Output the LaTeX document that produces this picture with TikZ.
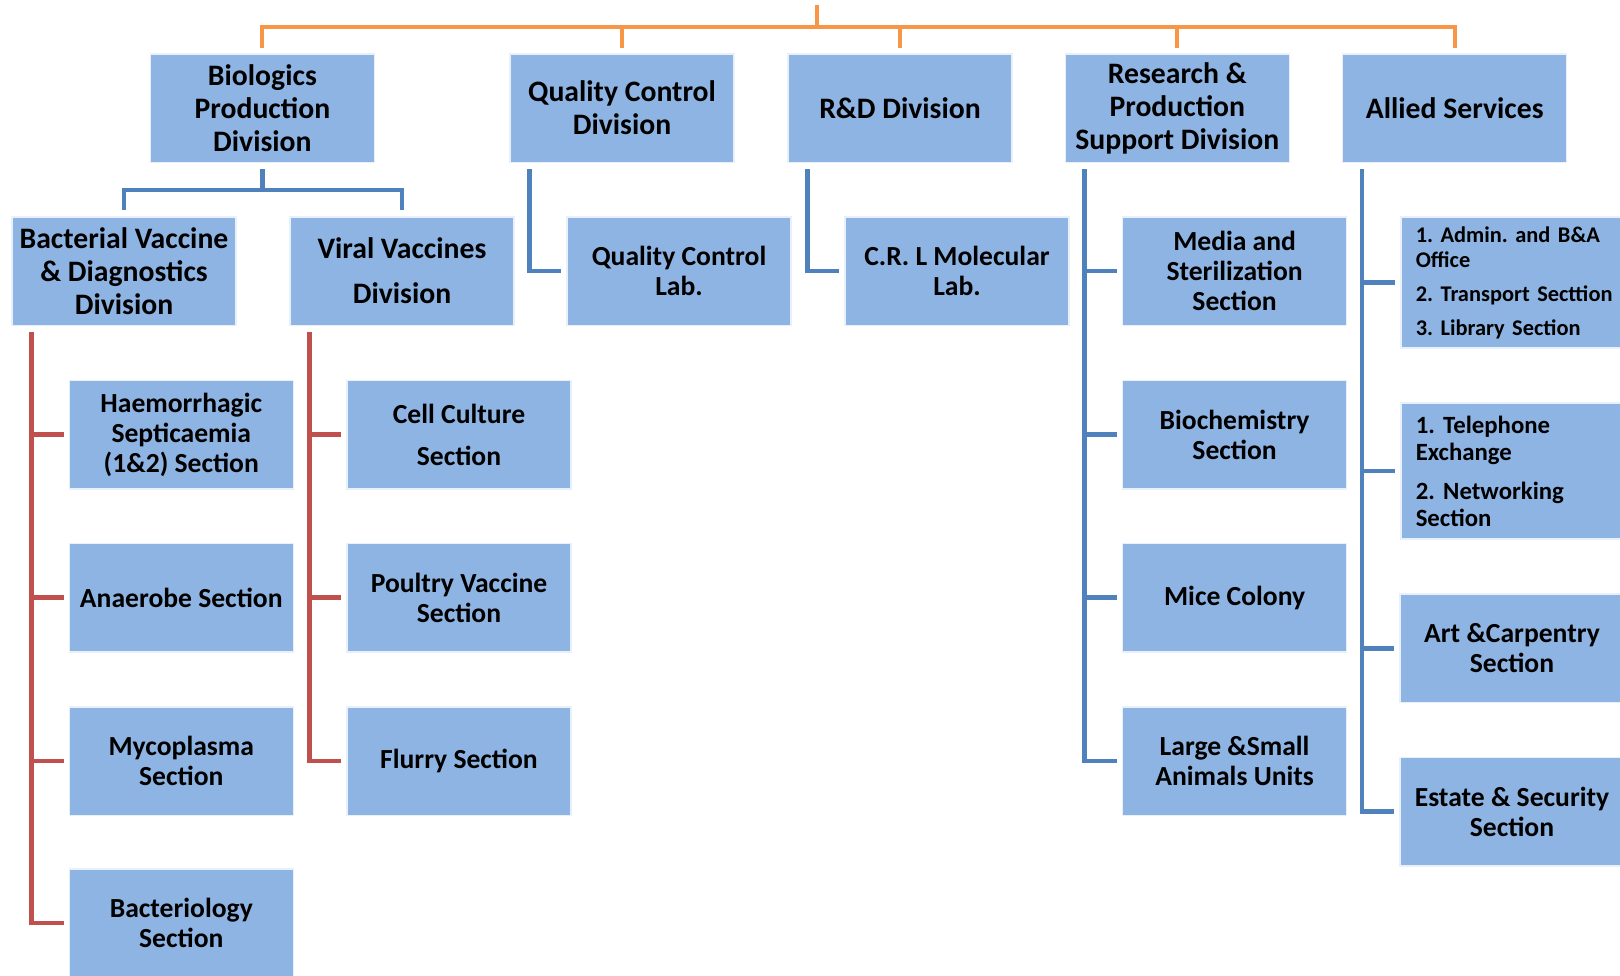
\documentclass[tikz,border=0pt]{standalone}
\usepackage{fontspec}
\setmainfont{Carlito}
\definecolor{boxblue}{HTML}{8EB4E3}
\definecolor{lineblue}{HTML}{4F81BD}
\definecolor{linered}{HTML}{C0504D}
\definecolor{lineorange}{HTML}{F79646}
\tikzset{
  unitbox/.style={fill=boxblue, draw=white!80!boxblue, line width=1.5pt, minimum width=224pt, minimum height=108.5pt, inner sep=0pt, align=center, font=\frenchspacing\bfseries\fontsize{27.6}{30}\selectfont},
  divbox/.style={unitbox, font=\frenchspacing\bfseries\fontsize{29.7}{33}\selectfont},
  listbox/.style={unitbox, anchor=west, align=left, text width=205pt, inner xsep=15pt, font=\frenchspacing\bfseries\fontsize{22.4}{25}\selectfont},
  orgline/.style={line width=4pt, lineorange},
  subline/.style={line width=4.5pt, lineblue},
  secline/.style={line width=4.5pt, linered}
}
\begin{document}
\begin{tikzpicture}[x=1pt,y=-1pt]
\useasboundingbox (0,0) rectangle (1620,975);
\fill[white] (0,0) rectangle (1620,975);
\clip (0,0) rectangle (1620,975);
% divisions
\node[divbox] (bio) at (262.4,108) {Biologics\\Production\\Division};
\node[divbox] (qcd) at (622,108) {Quality Control\\Division};
\node[divbox] (rnd) at (900,108) {R\&D Division};
\node[divbox] (rps) at (1177.3,108) {Research \&\\Production\\Support Division};
\node[divbox] (ally) at (1454.7,108) {Allied Services};
% second row
\node[divbox] (bact) at (124,271) {Bacterial Vaccine\\\& Diagnostics\\Division};
\node[divbox] (viral) at (402,271) {Viral Vaccines\\[12pt]Division};
\node[unitbox] (qcl) at (679,271) {Quality Control\\Lab.};
\node[unitbox] (crl) at (957,271) {C.R. L Molecular\\Lab.};
\node[unitbox] (media) at (1234.6,271) {Media and\\Sterilization\\Section};
\node[listbox, minimum height=131pt] (admin) at (1400,282.5) {1. Admin. and B\&A\\Office\\[9pt]2. Transport Secttion\\[9pt]3. Library Section};
% sections
\node[unitbox] (haem) at (181.3,434.5) {Haemorrhagic\\Septicaemia\\(1\&2) Section};
\node[unitbox] (anae) at (181.3,597.7) {Anaerobe Section};
\node[unitbox] (myco) at (181.3,761) {Mycoplasma\\Section};
\node[unitbox] (bactl) at (181.3,923) {Bacteriology\\Section};
\node[unitbox] (cell) at (459,434.5) {Cell Culture\\[12pt]Section};
\node[unitbox] (poul) at (459,597.7) {Poultry Vaccine\\Section};
\node[unitbox] (flur) at (459,761) {Flurry Section};
\node[unitbox] (bioch) at (1234.6,434.5) {Biochemistry\\Section};
\node[unitbox] (mice) at (1234.6,597.7) {Mice Colony};
\node[unitbox] (large) at (1234.6,761) {Large \&Small\\Animals Units};
\node[listbox, minimum height=136pt, font=\frenchspacing\bfseries\fontsize{24.8}{27}\selectfont] (tele) at (1400,471) {1. Telephone\\Exchange\\[12pt]2. Networking\\Section};
\node[unitbox] (art) at (1512,648.4) {Art \&Carpentry\\Section};
\node[unitbox] (estate) at (1512,811.6) {Estate \& Security\\Section};
% top bar
\coordinate (root) at (817,5);
\coordinate (rootbar) at (817,27);
\draw[orgline] (root) -- (rootbar);
\foreach \n in {bio,qcd,rnd,rps,ally} \draw[orgline] ([yshift=5pt]\n.north) |- (rootbar);
% biologics bracket
\coordinate (biojoin) at (262.4,190);
\draw[subline] ([yshift=-6pt]bio.south) -- (biojoin);
\draw[subline] ([yshift=6pt]bact.north) |- (biojoin);
\draw[subline] ([yshift=6pt]viral.north) |- (biojoin);
% spines
\draw[subline] ([xshift=20pt,yshift=-6pt]qcd.south west) |- ([xshift=-5pt]qcl.west);
\draw[subline] ([xshift=20pt,yshift=-6pt]rnd.south west) |- ([xshift=-5pt]crl.west);
\foreach \c in {media,bioch,mice,large} \draw[subline] ([xshift=20pt,yshift=-6pt]rps.south west) |- ([xshift=-5pt]\c.west);
\foreach \c in {admin,tele,art,estate} \draw[subline] ([xshift=20pt,yshift=-6pt]ally.south west) |- ([xshift=-5pt]\c.west);
\foreach \c in {haem,anae,myco,bactl} \draw[secline] ([xshift=20pt,yshift=-6pt]bact.south west) |- ([xshift=-5pt]\c.west);
\foreach \c in {cell,poul,flur} \draw[secline] ([xshift=20pt,yshift=-6pt]viral.south west) |- ([xshift=-5pt]\c.west);
\end{tikzpicture}
\end{document}
